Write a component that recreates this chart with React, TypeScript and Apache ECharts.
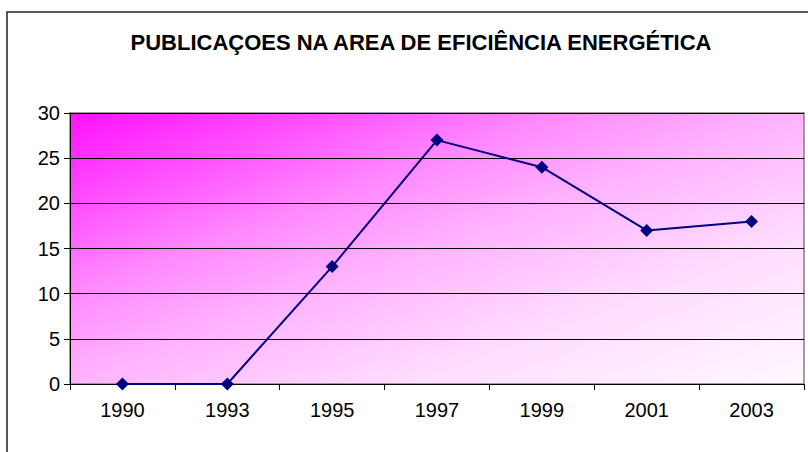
import React, { useEffect, useRef } from "react";
import * as echarts from "echarts";

const categories = ["1990", "1993", "1995", "1997", "1999", "2001", "2003"];
const publications = [0, 0, 13, 27, 24, 17, 18];
const titleText = "PUBLICAÇOES NA AREA DE EFICIÊNCIA ENERGÉTICA";

const FONT = "'Liberation Sans', Arial, sans-serif";

export default function App() {
  const ref = useRef<HTMLDivElement>(null);
  useEffect(() => {
    if (!ref.current) return;
    const chart = echarts.init(ref.current, undefined, { renderer: "svg" });
    chart.setOption({
      animation: false,
      backgroundColor: "#ffffff",
      title: {
        text: titleText,
        left: 416,
        textAlign: "center",
        top: 26,
        textStyle: { fontFamily: FONT, fontWeight: "bold", fontSize: 22, color: "#000" },
      },
      graphic: [
        {
          type: "rect",
          shape: { x: 7, y: 12, width: 830, height: 470 },
          style: { fill: "none", stroke: "#222", lineWidth: 1.5 },
          z: 100,
        },
      ],
      grid: {
        left: 70,
        top: 113,
        right: 4,
        bottom: 68,
        show: true,
        borderColor: "#808080",
        borderWidth: 1.5,
        backgroundColor: new echarts.graphic.LinearGradient(0, 0, 1, 1, [
          { offset: 0, color: "#ff10ff" },
          { offset: 0.33, color: "#ff88ff" },
          { offset: 0.5, color: "#ffb4ff" },
          { offset: 0.72, color: "#ffdcff" },
          { offset: 1, color: "#fff8ff" },
        ]),
      },
      xAxis: {
        type: "category",
        data: categories,
        boundaryGap: true,
        axisLine: { lineStyle: { color: "#000", width: 1 } },
        axisTick: { show: true, interval: 0, length: 6, lineStyle: { color: "#000" } },
        axisLabel: { color: "#000", fontFamily: FONT, fontSize: 20, margin: 16, interval: 0 },
        splitLine: { show: false },
      },
      yAxis: {
        type: "value",
        min: 0,
        max: 30,
        interval: 5,
        axisLine: { show: true, lineStyle: { color: "#000", width: 1 } },
        axisTick: { show: true, length: 6, lineStyle: { color: "#000" } },
        axisLabel: { color: "#000", fontFamily: FONT, fontSize: 20, margin: 10 },
        splitLine: { show: true, lineStyle: { color: "#000", width: 1 } },
      },
      series: [
        {
          type: "line",
          data: publications,
          symbol: "diamond",
          symbolSize: 13,
          itemStyle: { color: "#000080" },
          lineStyle: { color: "#000080", width: 2 },
        },
      ],
    });
    return () => chart.dispose();
  }, []);
  return (
    <div
      ref={ref}
      style={{ position: "absolute", left: 0, top: 0, width: 808, height: 452 }}
    />
  );
}
